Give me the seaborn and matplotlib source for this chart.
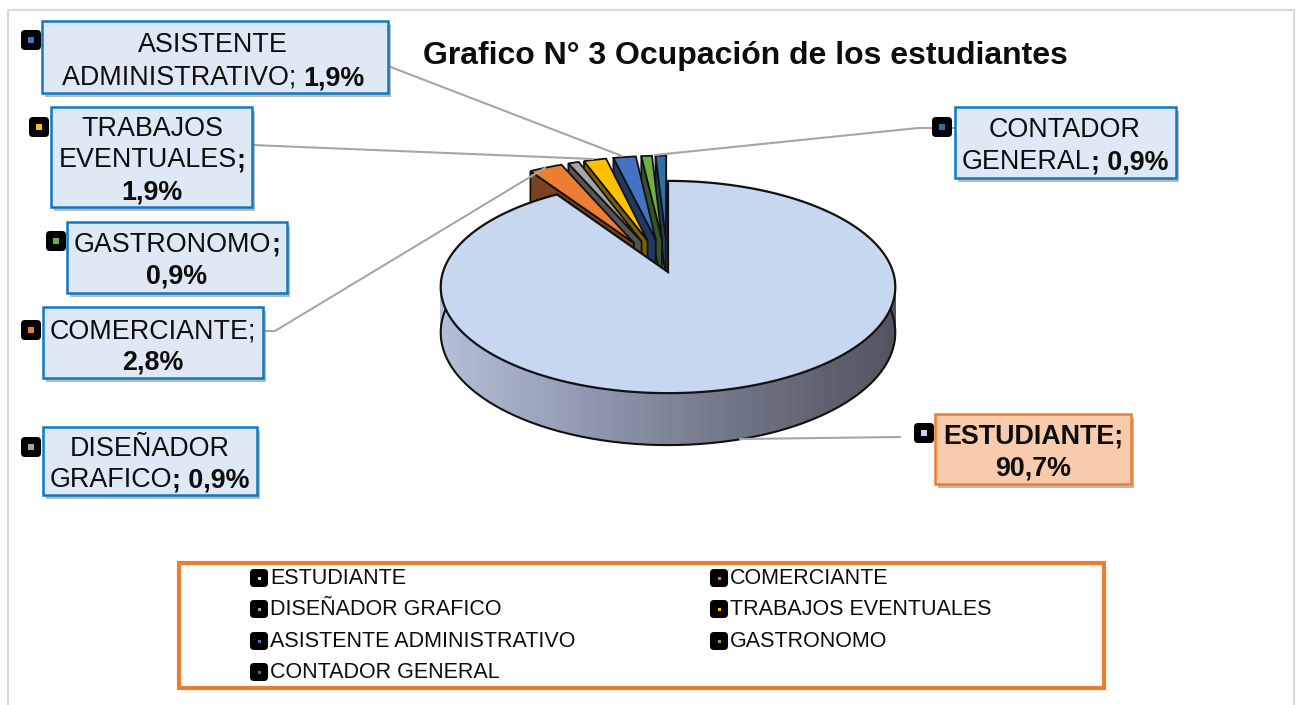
import numpy as np
import matplotlib
matplotlib.use("Agg")
import matplotlib.pyplot as plt
import matplotlib.patheffects as pe
from matplotlib.patches import Rectangle, FancyBboxPatch, Polygon
import seaborn as sns

categories = ["ESTUDIANTE", "COMERCIANTE", "DISEÑADOR GRAFICO", "TRABAJOS EVENTUALES",
              "ASISTENTE ADMINISTRATIVO", "GASTRONOMO", "CONTADOR GENERAL"]
values = [90.7, 2.8, 0.9, 1.9, 1.9, 0.9, 0.9]
title = "Grafico N° 3 Ocupación de los estudiantes"

top_colors = ["#C6D7EF", "#ED7D31", "#A5A5A5", "#FFC000", "#4472C4", "#70AD47", "#2E6FA8"]
wall_colors = ["#8A93A8", "#7A4222", "#555555", "#7F6000", "#203864", "#375623", "#1F3F66"]

sns.set_theme(style="white")
plt.rcParams["font.family"] = ["Liberation Sans", "DejaVu Sans"]

fig = plt.figure(figsize=(13, 7.05), dpi=100)
ax = fig.add_axes([0, 0, 1, 1])
ax.set_xlim(0, 1300)
ax.set_ylim(705, 0)
ax.axis("off")

# chart frame
ax.plot([8, 8, 1294, 1294], [705, 10, 10, 705], color="#D9D9D9", lw=1.5, zorder=0)

# perspective pie projection
CX, CY, RX, RY, PERSP, DEPTH = 668, 272, 225, 104, 0.1415, 44.6
EXPLODE = 0.33


def project(u, v, drop=0.0):
    u, v = np.asarray(u, float), np.asarray(v, float)
    w = 1 + PERSP * v
    return CX + u * RX / w, CY - v * RY / w + drop / w


fracs = np.array(values) / sum(values)
edges = np.concatenate([[0], np.cumsum(fracs)]) * 2 * np.pi

# exploded small slices, back (right) to front (left) so nearer slices hide walls
n_vals = len(values)
for i in range(1, n_vals):
    a0, a1 = edges[i], edges[i + 1]
    mid = (a0 + a1) / 2
    ou, ov = EXPLODE * np.sin(mid), EXPLODE * np.cos(mid)
    t = np.linspace(a0, a1, 12)
    au, av = ou + np.sin(t), ov + np.cos(t)
    z = 2 + (n_vals - i) * 0.1
    xs, ys = project([ou, au[0]], [ov, av[0]])
    xd, yd = project([au[0], ou], [av[0], ov], DEPTH)
    ax.add_patch(Polygon(np.column_stack([np.r_[xs, xd], np.r_[ys, yd]]), closed=True,
                         fc=wall_colors[i], ec="#111111", lw=1.3, zorder=z))
    x, y = project(np.r_[ou, au], np.r_[ov, av])
    ax.add_patch(Polygon(np.column_stack([x, y]), closed=True, fc=top_colors[i],
                         ec="#111111", lw=1.3, zorder=z + 0.05))

# main slice: side with gradient, then top surface
t = np.linspace(edges[0], edges[1], 400)
u, v = np.sin(t), np.cos(t)
xt, yt = project(u, v)
xb, yb = project(u, v, DEPTH)
side = sns.blend_palette(["#B3BFD6", "#8E97AD", "#6E7383", "#50535F"], n_colors=100)
for j in range(len(t) - 1):
    if v[j] > 0.1:
        continue
    k = int(np.clip((xt[j] - 441) / 454 * 99, 0, 99))
    ax.add_patch(Polygon([(xt[j], yt[j]), (xt[j + 1], yt[j + 1]), (xb[j + 1], yb[j + 1]), (xb[j], yb[j])],
                         closed=True, fc=side[k], ec=side[k], lw=0.6, zorder=4))
front = v < 0.1
ax.plot(xb[front], yb[front], color="#111111", lw=1.5, zorder=4.1)
x0, y0 = project(0, 0)
ax.add_patch(Polygon(np.column_stack([np.r_[x0, xt], np.r_[y0, yt]]), closed=True,
                     fc=top_colors[0], ec="#111111", lw=1.6, zorder=5))

# leader lines
leaders = [
    ([388, 622], [66, 156]),
    ([252, 593], [145, 159]),
    ([263, 275, 545], [331, 331, 168]),
    ([955, 918, 655], [128, 128, 155]),
    ([900, 740], [437, 439]),
]
for lx, ly in leaders:
    ax.plot(lx, ly, color="#A6A6A6", lw=1.5, zorder=6)

renderer = fig.canvas.get_renderer()


def rich_line(cx, cy, segments, size):
    """Centre a line of (text, bold) runs on cx, baseline at cy."""
    arts, total = [], 0
    for txt, bold in segments:
        a = ax.text(0, cy, txt, fontsize=size, fontweight="bold" if bold else "normal",
                    color="#0D0D0D", va="baseline", ha="left", zorder=9)
        w = a.get_window_extent(renderer).width
        arts.append((a, w))
        total += w
    x = cx - total / 2
    for a, w in arts:
        a.set_x(x)
        x += w


def pct(i):
    return f"{values[i]:.1f}".replace(".", ",") + "%"


def swatch(cx, cy, color, size=20, dot=6):
    ax.add_patch(FancyBboxPatch((cx - size / 2 + 3, cy - size / 2 + 3), size - 6, size - 6,
                                boxstyle="round,pad=3,rounding_size=4", fc="black", ec="none", zorder=8))
    ax.add_patch(Rectangle((cx - dot / 2, cy - dot / 2), dot, dot, fc=color, ec="none", zorder=8.5))


def box(x0, y0, x1, y1, fc, ec):
    ax.add_patch(Rectangle((x0, y0), x1 - x0, y1 - y0, fc=fc, ec=ec, lw=1.8, zorder=7,
                           path_effects=[pe.SimplePatchShadow(offset=(2, -3), shadow_rgbFace="#777777", alpha=0.5),
                                         pe.Normal()]))


BLUE_FC, BLUE_EC = "#DEE9F5", "#0F78C4"
LBL = 19.4

# ASISTENTE
box(42, 21, 388, 93, BLUE_FC, BLUE_EC)
swatch(31, 40, top_colors[4])
rich_line(213, 52, [("ASISTENTE", False)], LBL)
rich_line(213, 85, [("ADMINISTRATIVO; ", False), (pct(4), True)], LBL)
# TRABAJOS
box(51, 107, 252, 207, BLUE_FC, BLUE_EC)
swatch(39, 127, top_colors[3])
rich_line(152, 136, [("TRABAJOS", False)], LBL)
rich_line(152, 167, [("EVENTUALES", False), (";", True)], LBL)
rich_line(152, 199, [(pct(3), True)], LBL)
# GASTRONOMO
box(67, 222, 287, 293, BLUE_FC, BLUE_EC)
swatch(56, 241, top_colors[5])
rich_line(177, 252, [("GASTRONOMO", False), (";", True)], LBL)
rich_line(177, 284, [(pct(5), True)], LBL)
# COMERCIANTE
box(43, 307, 263, 378, BLUE_FC, BLUE_EC)
swatch(31, 330, top_colors[1])
rich_line(153, 338, [("COMERCIANTE;", False)], LBL)
rich_line(153, 370, [(pct(1), True)], LBL)
# DISEÑADOR
box(43, 427, 257, 495, BLUE_FC, BLUE_EC)
swatch(31, 447, top_colors[2])
rich_line(150, 456, [("DISEÑADOR", False)], LBL)
rich_line(150, 487, [("GRAFICO", False), ("; " + pct(2), True)], LBL)
# ESTUDIANTE
box(935, 414, 1131, 484, "#F8CBAD", "#ED7D31")
swatch(924, 433, top_colors[0])
rich_line(1033, 444, [("ESTUDIANTE;", True)], LBL)
rich_line(1033, 476, [(pct(0), True)], LBL)
# CONTADOR
box(955, 107, 1176, 178, BLUE_FC, BLUE_EC)
swatch(942, 127, top_colors[6])
rich_line(1065, 137, [("CONTADOR", False)], LBL)
rich_line(1065, 169, [("GENERAL", False), ("; " + pct(6), True)], LBL)

# title
ax.text(745, 56, title, fontsize=23, fontweight="bold", color="#0D0D0D", ha="center", va="center", zorder=9)

# legend
ax.add_patch(Rectangle((179, 563), 925, 125, fc="white", ec="#ED7D31", lw=3, zorder=7))
legend_rows = [578, 609, 641, 672]
for n in range(len(categories)):
    row, col = n // 2, n % 2
    mx = [259, 719][col]
    swatch(mx, legend_rows[row], top_colors[n], size=18, dot=3)
    ax.text(mx + 11, legend_rows[row] + 0.5, categories[n], fontsize=15.5, color="#0D0D0D",
            ha="left", va="center", zorder=9)

fig.savefig("out.png", dpi=100)
